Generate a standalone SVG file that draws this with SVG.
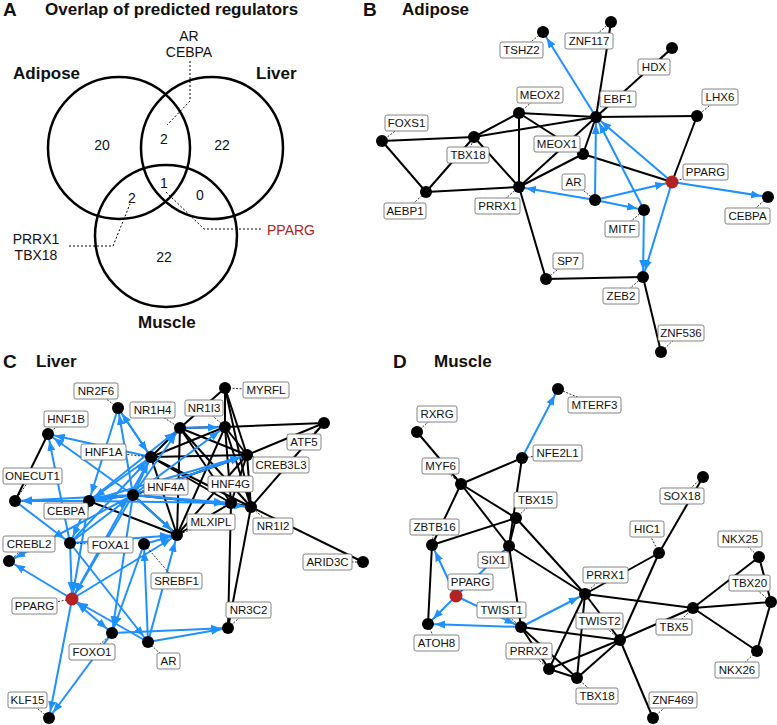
<svg xmlns="http://www.w3.org/2000/svg" width="777" height="725" viewBox="0 0 777 725">
<style>
text{font-family:"Liberation Sans",Arial,sans-serif;fill:#111}
.pl{font-size:19px;font-weight:bold}
.ti{font-size:17px;font-weight:bold}
.vt{font-size:14px}
.c{fill:none;stroke:#000;stroke-width:2.5}
.vd{fill:none;stroke:#000;stroke-width:1;stroke-dasharray:2,2}
.e{stroke:#000;stroke-width:2;fill:none}
.b{stroke:#1E90FF;stroke-width:2;fill:none;marker-end:url(#ah)}
.bb{stroke:#1E90FF;stroke-width:2;fill:none;marker-end:url(#ah);marker-start:url(#ah)}
.ld{stroke:#000;stroke-width:0.8;stroke-dasharray:2,1.5}
.n{fill:#000}
.r{fill:#B22222}
.lb{fill:#fff;stroke:#666;stroke-width:0.8}
.lt{font-size:11.5px;text-anchor:middle}
</style>
<defs>
<marker id="ah" viewBox="0 0 10 10" refX="17" refY="5" markerWidth="10" markerHeight="10" markerUnits="userSpaceOnUse" orient="auto-start-reverse"><path d="M0,1 L10,5 L0,9 z" fill="#1E90FF"/></marker>
</defs>
<rect width="777" height="725" fill="#fff"/>

<!-- Panel titles -->
<text class="pl" x="3" y="16">A</text>
<text class="ti" x="45" y="15">Overlap of predicted regulators</text>
<text class="pl" x="363" y="16">B</text>
<text class="ti" x="402" y="15">Adipose</text>
<text class="pl" x="3" y="368">C</text>
<text class="ti" x="36" y="367">Liver</text>
<text class="pl" x="393" y="368">D</text>
<text class="ti" x="434" y="367">Muscle</text>

<!-- Panel A Venn -->
<g id="venn">
<circle class="c" cx="119" cy="148" r="71"/>
<circle class="c" cx="212" cy="148" r="71"/>
<circle class="c" cx="166" cy="236" r="71"/>
<text class="ti" x="13" y="79">Adipose</text>
<text class="ti" x="256" y="79">Liver</text>
<text class="ti" x="138" y="328">Muscle</text>
<g class="vt" text-anchor="middle">
<text x="102" y="150">20</text>
<text x="164" y="144">2</text>
<text x="222" y="150">22</text>
<text x="164" y="188">1</text>
<text x="132" y="203">2</text>
<text x="200" y="200">0</text>
<text x="164" y="262">22</text>
<text x="189" y="41">AR</text>
<text x="189" y="57">CEBPA</text>
<text x="36" y="244">PRRX1</text>
<text x="36" y="260">TBX18</text>
</g>
<text class="vt" x="267" y="235" style="fill:#B22222">PPARG</text>
<polyline class="vd" points="190,61 190,101 167,125"/>
<polyline class="vd" points="69,246 113,246 130,204"/>
<polyline class="vd" points="166,192 204,229 263,229"/>
</g>

<!-- Connectors -->
<g id="connectors">
<!-- B black -->
<line class="e" x1="611" y1="22" x2="596" y2="117"/>
<line class="e" x1="672" y1="48" x2="596" y2="117"/>
<line class="e" x1="596" y1="117" x2="697" y2="116"/>
<line class="e" x1="519" y1="113" x2="596" y2="117"/>
<line class="e" x1="474" y1="137" x2="596" y2="117"/>
<line class="e" x1="519" y1="113" x2="474" y2="137"/>
<line class="e" x1="519" y1="113" x2="519" y2="187"/>
<line class="e" x1="519" y1="113" x2="583" y2="154"/>
<line class="e" x1="382" y1="141" x2="474" y2="137"/>
<line class="e" x1="382" y1="141" x2="426" y2="192"/>
<line class="e" x1="474" y1="137" x2="426" y2="192"/>
<line class="e" x1="474" y1="137" x2="519" y2="187"/>
<line class="e" x1="426" y1="192" x2="519" y2="187"/>
<line class="e" x1="596" y1="117" x2="583" y2="154"/>
<line class="e" x1="583" y1="154" x2="519" y2="187"/>
<line class="e" x1="596" y1="117" x2="519" y2="187"/>
<line class="e" x1="583" y1="154" x2="672" y2="182"/>
<line class="e" x1="697" y1="116" x2="672" y2="182"/>
<line class="e" x1="519" y1="187" x2="546" y2="279"/>
<line class="e" x1="546" y1="279" x2="643" y2="277"/>
<line class="e" x1="643" y1="277" x2="661" y2="352"/>
<!-- B blue -->
<line class="b" x1="596" y1="117" x2="543" y2="32"/>
<line class="b" x1="595" y1="200" x2="596" y2="117"/>
<line class="b" x1="672" y1="182" x2="596" y2="117"/>
<line class="b" x1="644" y1="210" x2="596" y2="117"/>
<line class="b" x1="595" y1="200" x2="519" y2="187"/>
<line class="b" x1="595" y1="200" x2="672" y2="182"/>
<line class="b" x1="595" y1="200" x2="644" y2="210"/>
<line class="b" x1="644" y1="210" x2="643" y2="277"/>
<line class="b" x1="672" y1="182" x2="643" y2="277"/>
<line class="b" x1="672" y1="182" x2="768" y2="197"/>

<!-- C black -->
<line class="e" x1="48" y1="434" x2="15" y2="501"/>
<line class="e" x1="15" y1="501" x2="89" y2="501"/>
<line class="e" x1="89" y1="501" x2="133" y2="495"/>
<line class="e" x1="89" y1="501" x2="177" y2="535"/>
<line class="e" x1="133" y1="495" x2="177" y2="535"/>
<line class="e" x1="133" y1="495" x2="247" y2="455"/>
<line class="e" x1="133" y1="495" x2="251" y2="507"/>
<line class="e" x1="151" y1="457" x2="180" y2="428"/>
<line class="e" x1="151" y1="457" x2="225" y2="427"/>
<line class="e" x1="151" y1="457" x2="247" y2="455"/>
<line class="e" x1="151" y1="457" x2="251" y2="507"/>
<line class="e" x1="151" y1="457" x2="177" y2="535"/>
<line class="e" x1="151" y1="457" x2="231" y2="503"/>
<line class="e" x1="180" y1="428" x2="225" y2="427"/>
<line class="e" x1="180" y1="428" x2="225" y2="388"/>
<line class="e" x1="180" y1="428" x2="247" y2="455"/>
<line class="e" x1="180" y1="428" x2="231" y2="503"/>
<line class="e" x1="180" y1="428" x2="177" y2="535"/>
<line class="e" x1="180" y1="428" x2="251" y2="507"/>
<line class="e" x1="225" y1="388" x2="225" y2="427"/>
<line class="e" x1="225" y1="388" x2="247" y2="455"/>
<line class="e" x1="225" y1="388" x2="251" y2="507"/>
<line class="e" x1="225" y1="427" x2="324" y2="423"/>
<line class="e" x1="225" y1="427" x2="247" y2="455"/>
<line class="e" x1="225" y1="427" x2="251" y2="507"/>
<line class="e" x1="225" y1="427" x2="231" y2="503"/>
<line class="e" x1="225" y1="427" x2="177" y2="535"/>
<line class="e" x1="247" y1="455" x2="324" y2="423"/>
<line class="e" x1="247" y1="455" x2="231" y2="503"/>
<line class="e" x1="247" y1="455" x2="251" y2="507"/>
<line class="e" x1="324" y1="423" x2="251" y2="507"/>
<line class="e" x1="231" y1="503" x2="251" y2="507"/>
<line class="e" x1="231" y1="503" x2="177" y2="535"/>
<line class="e" x1="231" y1="503" x2="228" y2="628"/>
<line class="e" x1="251" y1="507" x2="228" y2="628"/>
<line class="e" x1="251" y1="507" x2="363" y2="562"/>
<line class="e" x1="247" y1="455" x2="177" y2="535"/>
<!-- C blue -->
<line class="b" x1="133" y1="495" x2="118" y2="408"/>
<line class="b" x1="151" y1="457" x2="118" y2="408"/>
<line class="b" x1="118" y1="408" x2="151" y2="457"/>
<line class="b" x1="118" y1="408" x2="89" y2="501"/>
<line class="b" x1="151" y1="457" x2="48" y2="434"/>
<line class="b" x1="133" y1="495" x2="48" y2="434"/>
<line class="b" x1="70" y1="543" x2="48" y2="434"/>
<line class="b" x1="133" y1="495" x2="15" y2="501"/>
<line class="b" x1="89" y1="501" x2="15" y2="501"/>
<line class="b" x1="15" y1="501" x2="70" y2="543"/>
<line class="b" x1="133" y1="495" x2="89" y2="501"/>
<line class="b" x1="151" y1="457" x2="89" y2="501"/>
<line class="b" x1="133" y1="495" x2="151" y2="457"/>
<line class="b" x1="133" y1="495" x2="180" y2="428"/>
<line class="b" x1="133" y1="495" x2="225" y2="427"/>
<line class="b" x1="133" y1="495" x2="247" y2="455"/>
<line class="b" x1="133" y1="495" x2="231" y2="503"/>
<line class="b" x1="133" y1="495" x2="251" y2="507"/>
<line class="b" x1="133" y1="495" x2="177" y2="535"/>
<line class="b" x1="180" y1="428" x2="225" y2="427"/>
<line class="b" x1="89" y1="501" x2="180" y2="428"/>
<line class="b" x1="89" y1="501" x2="231" y2="503"/>
<line class="b" x1="89" y1="501" x2="247" y2="455"/>
<line class="b" x1="70" y1="543" x2="133" y2="495"/>
<line class="b" x1="70" y1="543" x2="151" y2="457"/>
<line class="b" x1="70" y1="543" x2="177" y2="535"/>
<line class="b" x1="144" y1="544" x2="177" y2="535"/>
<line class="b" x1="133" y1="495" x2="9" y2="561"/>
<line class="b" x1="72" y1="599" x2="9" y2="561"/>
<line class="b" x1="70" y1="543" x2="72" y2="599"/>
<line class="b" x1="89" y1="501" x2="72" y2="599"/>
<line class="b" x1="133" y1="495" x2="72" y2="599"/>
<line class="b" x1="151" y1="457" x2="72" y2="599"/>
<line class="b" x1="72" y1="599" x2="177" y2="535"/>
<line class="bb" x1="72" y1="599" x2="112" y2="633"/>
<line class="b" x1="148" y1="642" x2="72" y2="599"/>
<line class="b" x1="72" y1="599" x2="49" y2="718"/>
<line class="b" x1="112" y1="633" x2="49" y2="718"/>
<line class="b" x1="112" y1="633" x2="228" y2="628"/>
<line class="b" x1="148" y1="642" x2="228" y2="628"/>
<line class="b" x1="148" y1="642" x2="144" y2="544"/>
<line class="b" x1="148" y1="642" x2="177" y2="535"/>
<line class="b" x1="70" y1="543" x2="148" y2="642"/>
<line class="b" x1="133" y1="495" x2="112" y2="633"/>
<line class="b" x1="144" y1="544" x2="112" y2="633"/>
<line class="b" x1="89" y1="501" x2="70" y2="543"/>

<!-- D black -->
<line class="e" x1="417" y1="432" x2="461" y2="484"/>
<line class="e" x1="461" y1="484" x2="522" y2="458"/>
<line class="e" x1="522" y1="458" x2="509" y2="546"/>
<line class="e" x1="461" y1="484" x2="432" y2="545"/>
<line class="e" x1="461" y1="484" x2="516" y2="518"/>
<line class="e" x1="461" y1="484" x2="509" y2="546"/>
<line class="e" x1="432" y1="545" x2="516" y2="518"/>
<line class="e" x1="432" y1="545" x2="428" y2="624"/>
<line class="e" x1="516" y1="518" x2="585" y2="594"/>
<line class="e" x1="516" y1="518" x2="509" y2="546"/>
<line class="e" x1="509" y1="546" x2="521" y2="627"/>
<line class="e" x1="509" y1="546" x2="585" y2="594"/>
<line class="e" x1="703" y1="477" x2="659" y2="553"/>
<line class="e" x1="659" y1="553" x2="620" y2="640"/>
<line class="e" x1="659" y1="553" x2="585" y2="594"/>
<line class="e" x1="585" y1="594" x2="693" y2="608"/>
<line class="e" x1="693" y1="608" x2="771" y2="602"/>
<line class="e" x1="693" y1="608" x2="759" y2="557"/>
<line class="e" x1="693" y1="608" x2="757" y2="651"/>
<line class="e" x1="759" y1="557" x2="771" y2="602"/>
<line class="e" x1="771" y1="602" x2="757" y2="651"/>
<line class="e" x1="693" y1="608" x2="620" y2="640"/>
<line class="e" x1="521" y1="627" x2="620" y2="640"/>
<line class="e" x1="521" y1="627" x2="549" y2="669"/>
<line class="e" x1="521" y1="627" x2="577" y2="678"/>
<line class="e" x1="549" y1="669" x2="620" y2="640"/>
<line class="e" x1="577" y1="678" x2="620" y2="640"/>
<line class="e" x1="549" y1="669" x2="577" y2="678"/>
<line class="e" x1="585" y1="594" x2="549" y2="669"/>
<line class="e" x1="585" y1="594" x2="577" y2="678"/>
<line class="e" x1="585" y1="594" x2="620" y2="640"/>
<line class="e" x1="620" y1="640" x2="653" y2="718"/>
<!-- D blue -->
<line class="b" x1="522" y1="458" x2="558" y2="389"/>
<line class="b" x1="456" y1="596" x2="509" y2="546"/>
<line class="b" x1="456" y1="596" x2="432" y2="545"/>
<line class="b" x1="456" y1="596" x2="428" y2="624"/>
<line class="b" x1="456" y1="596" x2="521" y2="627"/>
<line class="b" x1="521" y1="627" x2="428" y2="624"/>
<line class="b" x1="521" y1="627" x2="585" y2="594"/>
</g>

<!-- Panel B nodes -->
<g id="B_TSHZ2"><line class="ld" x1="521" y1="50" x2="543" y2="32"/><circle class="n" cx="543" cy="32" r="6"/><rect class="lb" x="500" y="42" width="43" height="16" rx="2"/><text class="lt" x="521.5" y="54">TSHZ2</text></g>
<g id="B_ZNF117"><line class="ld" x1="589" y1="41" x2="611" y2="22"/><circle class="n" cx="611" cy="22" r="6"/><rect class="lb" x="565" y="33" width="48" height="16" rx="2"/><text class="lt" x="589" y="45">ZNF117</text></g>
<g id="B_HDX"><line class="ld" x1="654" y1="67" x2="672" y2="48"/><circle class="n" cx="672" cy="48" r="6"/><rect class="lb" x="638" y="59" width="32" height="16" rx="2"/><text class="lt" x="654" y="71">HDX</text></g>
<g id="B_EBF1"><line class="ld" x1="618" y1="99" x2="596" y2="117"/><circle class="n" cx="596" cy="117" r="6"/><rect class="lb" x="600" y="91" width="36" height="16" rx="2"/><text class="lt" x="618" y="103">EBF1</text></g>
<g id="B_LHX6"><line class="ld" x1="720" y1="97" x2="697" y2="116"/><circle class="n" cx="697" cy="116" r="6"/><rect class="lb" x="702" y="89" width="36" height="16" rx="2"/><text class="lt" x="720" y="101">LHX6</text></g>
<g id="B_MEOX2"><line class="ld" x1="540" y1="95" x2="519" y2="113"/><circle class="n" cx="519" cy="113" r="6"/><rect class="lb" x="517" y="87" width="46" height="16" rx="2"/><text class="lt" x="540" y="99">MEOX2</text></g>
<g id="B_FOXS1"><line class="ld" x1="406" y1="123" x2="382" y2="141"/><circle class="n" cx="382" cy="141" r="6"/><rect class="lb" x="385" y="115" width="43" height="16" rx="2"/><text class="lt" x="406.5" y="127">FOXS1</text></g>
<g id="B_TBX18"><line class="ld" x1="468" y1="155" x2="474" y2="137"/><circle class="n" cx="474" cy="137" r="6"/><rect class="lb" x="447" y="147" width="42" height="16" rx="2"/><text class="lt" x="468" y="159">TBX18</text></g>
<g id="B_MEOX1"><line class="ld" x1="557" y1="144" x2="583" y2="154"/><circle class="n" cx="583" cy="154" r="6"/><rect class="lb" x="534" y="136" width="46" height="16" rx="2"/><text class="lt" x="557" y="148">MEOX1</text></g>
<g id="B_PPARG"><line class="ld" x1="705" y1="172" x2="672" y2="182"/><circle class="r" cx="672" cy="182" r="6.5"/><rect class="lb" x="683" y="164" width="45" height="16" rx="2"/><text class="lt" x="705.5" y="176">PPARG</text></g>
<g id="B_AEBP1"><line class="ld" x1="405" y1="211" x2="426" y2="192"/><circle class="n" cx="426" cy="192" r="6"/><rect class="lb" x="384" y="203" width="42" height="16" rx="2"/><text class="lt" x="405" y="215">AEBP1</text></g>
<g id="B_PRRX1"><line class="ld" x1="497" y1="206" x2="519" y2="187"/><circle class="n" cx="519" cy="187" r="6"/><rect class="lb" x="475" y="198" width="45" height="16" rx="2"/><text class="lt" x="497.5" y="210">PRRX1</text></g>
<g id="B_AR"><line class="ld" x1="573" y1="182" x2="595" y2="200"/><circle class="n" cx="595" cy="200" r="6"/><rect class="lb" x="562" y="174" width="23" height="16" rx="2"/><text class="lt" x="573.5" y="186">AR</text></g>
<g id="B_MITF"><line class="ld" x1="622" y1="229" x2="644" y2="210"/><circle class="n" cx="644" cy="210" r="6"/><rect class="lb" x="605" y="221" width="34" height="16" rx="2"/><text class="lt" x="622" y="233">MITF</text></g>
<g id="B_CEBPA"><line class="ld" x1="747" y1="216" x2="768" y2="197"/><circle class="n" cx="768" cy="197" r="6"/><rect class="lb" x="725" y="208" width="45" height="16" rx="2"/><text class="lt" x="747.5" y="220">CEBPA</text></g>
<g id="B_SP7"><line class="ld" x1="568" y1="261" x2="546" y2="279"/><circle class="n" cx="546" cy="279" r="6"/><rect class="lb" x="553" y="253" width="30" height="16" rx="2"/><text class="lt" x="568" y="265">SP7</text></g>
<g id="B_ZEB2"><line class="ld" x1="621" y1="296" x2="643" y2="277"/><circle class="n" cx="643" cy="277" r="6"/><rect class="lb" x="603" y="288" width="36" height="16" rx="2"/><text class="lt" x="621" y="300">ZEB2</text></g>
<g id="B_ZNF536"><line class="ld" x1="681" y1="333" x2="661" y2="352"/><circle class="n" cx="661" cy="352" r="6"/><rect class="lb" x="658" y="325" width="46" height="16" rx="2"/><text class="lt" x="681" y="337">ZNF536</text></g>

<!-- Panel C nodes -->
<g id="C_NR2F6"><line class="ld" x1="96" y1="391" x2="118" y2="408"/><circle class="n" cx="118" cy="408" r="6"/><rect class="lb" x="74" y="383" width="44" height="16" rx="2"/><text class="lt" x="96" y="395">NR2F6</text></g>
<g id="C_NR1H4"><line class="ld" x1="152" y1="410" x2="180" y2="428"/><circle class="n" cx="180" cy="428" r="6"/><rect class="lb" x="130" y="402" width="45" height="16" rx="2"/><text class="lt" x="152.5" y="414">NR1H4</text></g>
<g id="C_MYRFL"><line class="ld" x1="266" y1="390" x2="225" y2="388"/><circle class="n" cx="225" cy="388" r="6"/><rect class="lb" x="243" y="382" width="46" height="16" rx="2"/><text class="lt" x="266" y="394">MYRFL</text></g>
<g id="C_NR1I3"><line class="ld" x1="204" y1="408" x2="225" y2="427"/><circle class="n" cx="225" cy="427" r="6"/><rect class="lb" x="185" y="400" width="38" height="16" rx="2"/><text class="lt" x="204" y="412">NR1I3</text></g>
<g id="C_HNF1B"><line class="ld" x1="66" y1="419" x2="48" y2="434"/><circle class="n" cx="48" cy="434" r="6"/><rect class="lb" x="44" y="411" width="44" height="16" rx="2"/><text class="lt" x="66" y="423">HNF1B</text></g>
<g id="C_HNF1A"><line class="ld" x1="103" y1="452" x2="151" y2="457"/><circle class="n" cx="151" cy="457" r="6"/><rect class="lb" x="81" y="444" width="45" height="16" rx="2"/><text class="lt" x="103.5" y="456">HNF1A</text></g>
<g id="C_ATF5"><line class="ld" x1="304" y1="442" x2="324" y2="423"/><circle class="n" cx="324" cy="423" r="6"/><rect class="lb" x="287" y="434" width="34" height="16" rx="2"/><text class="lt" x="304" y="446">ATF5</text></g>
<g id="C_CREB3L3"><line class="ld" x1="281" y1="465" x2="247" y2="455"/><circle class="n" cx="247" cy="455" r="6"/><rect class="lb" x="253" y="457" width="56" height="16" rx="2"/><text class="lt" x="281" y="469">CREB3L3</text></g>
<g id="C_ONECUT1"><line class="ld" x1="32" y1="476" x2="15" y2="501"/><circle class="n" cx="15" cy="501" r="6"/><rect class="lb" x="3" y="468" width="59" height="16" rx="2"/><text class="lt" x="32.5" y="480">ONECUT1</text></g>
<g id="C_HNF4A"><line class="ld" x1="166" y1="487" x2="133" y2="495"/><circle class="n" cx="133" cy="495" r="6"/><rect class="lb" x="144" y="479" width="44" height="16" rx="2"/><text class="lt" x="166" y="491">HNF4A</text></g>
<g id="C_CEBPA"><line class="ld" x1="66" y1="511" x2="89" y2="501"/><circle class="n" cx="89" cy="501" r="6"/><rect class="lb" x="44" y="503" width="44" height="16" rx="2"/><text class="lt" x="66" y="515">CEBPA</text></g>
<g id="C_HNF4G"><line class="ld" x1="230" y1="484" x2="231" y2="503"/><circle class="n" cx="231" cy="503" r="6"/><rect class="lb" x="208" y="476" width="45" height="16" rx="2"/><text class="lt" x="230.5" y="488">HNF4G</text></g>
<g id="C_NR1I2"><line class="ld" x1="273" y1="526" x2="251" y2="507"/><circle class="n" cx="251" cy="507" r="6"/><rect class="lb" x="253" y="518" width="40" height="16" rx="2"/><text class="lt" x="273" y="530">NR1I2</text></g>
<g id="C_MLXIPL"><line class="ld" x1="211" y1="522" x2="177" y2="535"/><circle class="n" cx="177" cy="535" r="6"/><rect class="lb" x="187" y="514" width="48" height="16" rx="2"/><text class="lt" x="211" y="526">MLXIPL</text></g>
<g id="C_FOXA1"><line class="ld" x1="110" y1="545" x2="70" y2="543"/><circle class="n" cx="70" cy="543" r="6"/><rect class="lb" x="88" y="537" width="45" height="16" rx="2"/><text class="lt" x="110.5" y="549">FOXA1</text></g>
<g id="C_CREBL2"><line class="ld" x1="29" y1="544" x2="9" y2="561"/><circle class="n" cx="9" cy="561" r="6"/><rect class="lb" x="3" y="536" width="52" height="16" rx="2"/><text class="lt" x="29" y="548">CREBL2</text></g>
<g id="C_SREBF1"><line class="ld" x1="176" y1="581" x2="144" y2="544"/><circle class="n" cx="144" cy="544" r="6"/><rect class="lb" x="151" y="573" width="51" height="16" rx="2"/><text class="lt" x="176.5" y="585">SREBF1</text></g>
<g id="C_ARID3C"><line class="ld" x1="327" y1="562" x2="363" y2="562"/><circle class="n" cx="363" cy="562" r="6"/><rect class="lb" x="303" y="554" width="49" height="16" rx="2"/><text class="lt" x="327.5" y="566">ARID3C</text></g>
<g id="C_PPARG"><line class="ld" x1="34" y1="606" x2="72" y2="599"/><circle class="r" cx="72" cy="599" r="6.5"/><rect class="lb" x="12" y="598" width="45" height="16" rx="2"/><text class="lt" x="34.5" y="610">PPARG</text></g>
<g id="C_NR3C2"><line class="ld" x1="248" y1="610" x2="228" y2="628"/><circle class="n" cx="228" cy="628" r="6"/><rect class="lb" x="226" y="602" width="45" height="16" rx="2"/><text class="lt" x="248.5" y="614">NR3C2</text></g>
<g id="C_FOXO1"><line class="ld" x1="92" y1="652" x2="112" y2="633"/><circle class="n" cx="112" cy="633" r="6"/><rect class="lb" x="69" y="644" width="46" height="16" rx="2"/><text class="lt" x="92" y="656">FOXO1</text></g>
<g id="C_AR"><line class="ld" x1="168" y1="661" x2="148" y2="642"/><circle class="n" cx="148" cy="642" r="6"/><rect class="lb" x="157" y="653" width="23" height="16" rx="2"/><text class="lt" x="168.5" y="665">AR</text></g>
<g id="C_KLF15"><line class="ld" x1="27" y1="700" x2="49" y2="718"/><circle class="n" cx="49" cy="718" r="6"/><rect class="lb" x="8" y="692" width="39" height="16" rx="2"/><text class="lt" x="27.5" y="704">KLF15</text></g>

<!-- Panel D nodes -->
<g id="D_MTERF3"><line class="ld" x1="594" y1="404" x2="558" y2="389"/><circle class="n" cx="558" cy="389" r="6"/><rect class="lb" x="568" y="397" width="53" height="16" rx="2"/><text class="lt" x="594.5" y="409">MTERF3</text></g>
<g id="D_RXRG"><line class="ld" x1="437" y1="414" x2="417" y2="432"/><circle class="n" cx="417" cy="432" r="6"/><rect class="lb" x="417" y="406" width="40" height="16" rx="2"/><text class="lt" x="437" y="418">RXRG</text></g>
<g id="D_NFE2L1"><line class="ld" x1="557" y1="453" x2="522" y2="458"/><circle class="n" cx="522" cy="458" r="6"/><rect class="lb" x="533" y="445" width="49" height="16" rx="2"/><text class="lt" x="557.5" y="457">NFE2L1</text></g>
<g id="D_MYF6"><line class="ld" x1="440" y1="466" x2="461" y2="484"/><circle class="n" cx="461" cy="484" r="6"/><rect class="lb" x="422" y="458" width="37" height="16" rx="2"/><text class="lt" x="440.5" y="470">MYF6</text></g>
<g id="D_TBX15"><line class="ld" x1="535" y1="500" x2="516" y2="518"/><circle class="n" cx="516" cy="518" r="6"/><rect class="lb" x="514" y="492" width="43" height="16" rx="2"/><text class="lt" x="535.5" y="504">TBX15</text></g>
<g id="D_SOX18"><line class="ld" x1="682" y1="496" x2="703" y2="477"/><circle class="n" cx="703" cy="477" r="6"/><rect class="lb" x="660" y="488" width="44" height="16" rx="2"/><text class="lt" x="682" y="500">SOX18</text></g>
<g id="D_HIC1"><line class="ld" x1="647" y1="529" x2="659" y2="553"/><circle class="n" cx="659" cy="553" r="6"/><rect class="lb" x="630" y="521" width="34" height="16" rx="2"/><text class="lt" x="647" y="533">HIC1</text></g>
<g id="D_NKX25"><line class="ld" x1="740" y1="539" x2="759" y2="557"/><circle class="n" cx="759" cy="557" r="6"/><rect class="lb" x="718" y="531" width="44" height="16" rx="2"/><text class="lt" x="740" y="543">NKX25</text></g>
<g id="D_ZBTB16"><line class="ld" x1="434" y1="527" x2="432" y2="545"/><circle class="n" cx="432" cy="545" r="6"/><rect class="lb" x="410" y="519" width="49" height="16" rx="2"/><text class="lt" x="434.5" y="531">ZBTB16</text></g>
<g id="D_SIX1"><line class="ld" x1="493" y1="560" x2="509" y2="546"/><circle class="n" cx="509" cy="546" r="6"/><rect class="lb" x="478" y="552" width="31" height="16" rx="2"/><text class="lt" x="493.5" y="564">SIX1</text></g>
<g id="D_PPARG"><line class="ld" x1="470" y1="582" x2="456" y2="596"/><circle class="r" cx="456" cy="596" r="6.5"/><rect class="lb" x="448" y="574" width="45" height="16" rx="2"/><text class="lt" x="470.5" y="586">PPARG</text></g>
<g id="D_PRRX1"><line class="ld" x1="605" y1="575" x2="585" y2="594"/><circle class="n" cx="585" cy="594" r="6"/><rect class="lb" x="583" y="567" width="45" height="16" rx="2"/><text class="lt" x="605.5" y="579">PRRX1</text></g>
<g id="D_TBX20"><line class="ld" x1="749" y1="583" x2="771" y2="602"/><circle class="n" cx="771" cy="602" r="6"/><rect class="lb" x="729" y="575" width="41" height="16" rx="2"/><text class="lt" x="749.5" y="587">TBX20</text></g>
<g id="D_TBX5"><line class="ld" x1="674" y1="627" x2="693" y2="608"/><circle class="n" cx="693" cy="608" r="6"/><rect class="lb" x="656" y="619" width="36" height="16" rx="2"/><text class="lt" x="674" y="631">TBX5</text></g>
<g id="D_TWIST1"><line class="ld" x1="501" y1="610" x2="521" y2="627"/><circle class="n" cx="521" cy="627" r="6"/><rect class="lb" x="477" y="602" width="49" height="16" rx="2"/><text class="lt" x="501.5" y="614">TWIST1</text></g>
<g id="D_TWIST2"><line class="ld" x1="599" y1="621" x2="620" y2="640"/><circle class="n" cx="620" cy="640" r="6"/><rect class="lb" x="576" y="613" width="47" height="16" rx="2"/><text class="lt" x="599.5" y="625">TWIST2</text></g>
<g id="D_ATOH8"><line class="ld" x1="436" y1="643" x2="428" y2="624"/><circle class="n" cx="428" cy="624" r="6"/><rect class="lb" x="414" y="635" width="45" height="16" rx="2"/><text class="lt" x="436.5" y="647">ATOH8</text></g>
<g id="D_PRRX2"><line class="ld" x1="529" y1="651" x2="549" y2="669"/><circle class="n" cx="549" cy="669" r="6"/><rect class="lb" x="506" y="643" width="46" height="16" rx="2"/><text class="lt" x="529" y="655">PRRX2</text></g>
<g id="D_TBX18"><line class="ld" x1="597" y1="696" x2="577" y2="678"/><circle class="n" cx="577" cy="678" r="6"/><rect class="lb" x="576" y="688" width="42" height="16" rx="2"/><text class="lt" x="597" y="700">TBX18</text></g>
<g id="D_NKX26"><line class="ld" x1="737" y1="670" x2="757" y2="651"/><circle class="n" cx="757" cy="651" r="6"/><rect class="lb" x="715" y="662" width="44" height="16" rx="2"/><text class="lt" x="737" y="674">NKX26</text></g>
<g id="D_ZNF469"><line class="ld" x1="673" y1="700" x2="653" y2="718"/><circle class="n" cx="653" cy="718" r="6"/><rect class="lb" x="649" y="692" width="48" height="16" rx="2"/><text class="lt" x="673" y="704">ZNF469</text></g>
</svg>
